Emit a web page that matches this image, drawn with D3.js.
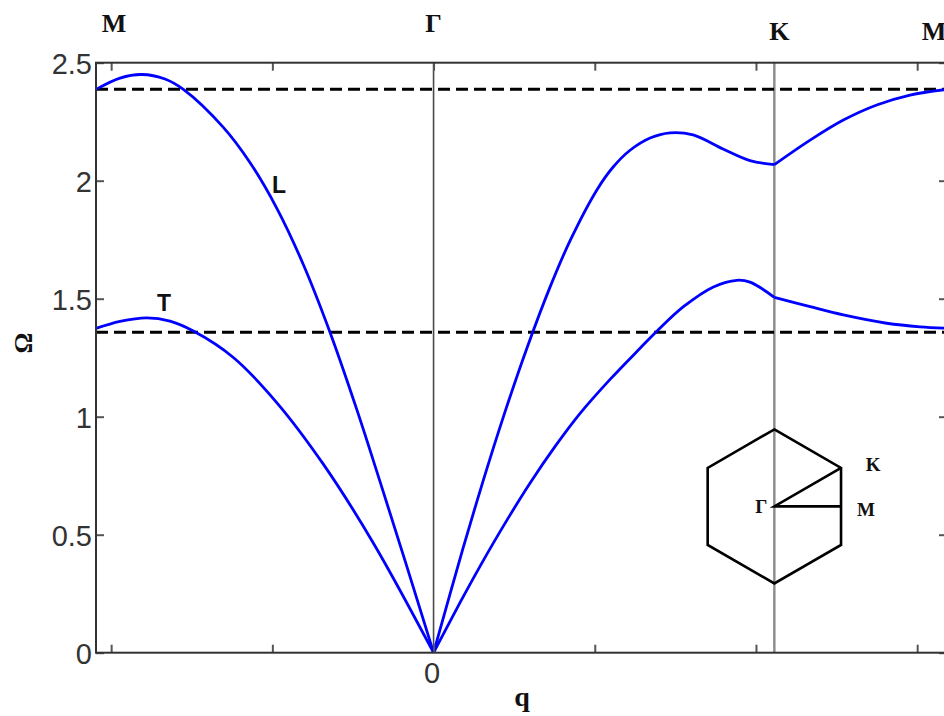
<!DOCTYPE html>
<html>
<head>
<meta charset="utf-8">
<script src="https://cdn.jsdelivr.net/npm/d3@7"></script>
<style>
  html, body { margin: 0; padding: 0; background: #fff; }
  svg { display: block; }
</style>
</head>
<body>
<svg id="chart" width="944" height="716"></svg>
<script>
// High-symmetry points along the path M - Γ - K - M
const symNames = ["M", "Γ", "K", "M"];
const symQ = [-2.094, 0, 2.114, 3.185];

// Axis ticks
const xTicks = [-2, -1, 0, 1, 2, 3];
const xTickLabels = ["", "", "0", "", "", ""];
const yTicks = [0, 0.5, 1, 1.5, 2, 2.5];
const yTickLabels = ["0", "0.5", "1", "1.5", "2", "2.5"];

// Reference frequency levels (dashed)
const refLevels = [2.387, 1.358];

// Longitudinal branch, M -> Γ
const qL_MG = [-2.094, -1.945, -1.810, -1.666, -1.552, -1.304, -1.138, -0.973, -0.808, -0.642, -0.476, -0.332, -0.177, 0];
const omegaL_MG = [2.387, 2.435, 2.450, 2.431, 2.387, 2.226, 2.076, 1.884, 1.645, 1.357, 1.030, 0.725, 0.390, 0];

// Transverse branch, M -> Γ
const qT_MG = [-2.094, -1.945, -1.779, -1.635, -1.490, -1.242, -0.973, -0.684, -0.373, 0];
const omegaT_MG = [1.374, 1.404, 1.419, 1.405, 1.363, 1.251, 1.060, 0.799, 0.464, 0];

// Upper branch, Γ -> K
const qU_GK = [0, 0.183, 0.307, 0.431, 0.580, 0.723, 0.847, 1.014, 1.114, 1.219, 1.343, 1.467, 1.610, 1.796, 1.963, 2.114];
const omegaU_GK = [0, 0.443, 0.727, 0.995, 1.292, 1.550, 1.746, 1.962, 2.058, 2.129, 2.181, 2.203, 2.194, 2.134, 2.085, 2.068];

// Lower branch, Γ -> K
const qD_GK = [0, 0.164, 0.288, 0.444, 0.599, 0.754, 0.909, 1.095, 1.281, 1.385, 1.550, 1.736, 1.881, 1.963, 2.114];
const omegaD_GK = [0, 0.212, 0.366, 0.549, 0.719, 0.874, 1.014, 1.158, 1.290, 1.362, 1.466, 1.550, 1.578, 1.570, 1.506];

// Upper branch, K -> M
const qU_KM = [2.114, 2.336, 2.542, 2.749, 2.956, 3.185];
const omegaU_KM = [2.068, 2.172, 2.257, 2.321, 2.363, 2.387];

// Lower branch, K -> M
const qD_KM = [2.114, 2.336, 2.542, 2.811, 3.018, 3.185];
const omegaD_KM = [1.506, 1.466, 1.431, 1.396, 1.381, 1.375];

// Branch name labels
const branchNames = ["L", "T"];
const branchLabelQ = [-0.958, -1.672];
const branchLabelOmega = [1.948, 1.448];

const segments = [
  [qL_MG, omegaL_MG], [qT_MG, omegaT_MG],
  [qU_GK, omegaU_GK], [qD_GK, omegaD_GK],
  [qU_KM, omegaU_KM], [qD_KM, omegaD_KM]
].map(([qs, ws]) => qs.map((q, i) => ({ q, w: ws[i] })));

const svg = d3.select("#chart");
svg.append("rect").attr("width", 944).attr("height", 716).attr("fill", "#fff");

const pL = 96, pR = 947, pT = 62.7, pB = 652.7;
const x = d3.scaleLinear().domain([symQ[0], symQ[3]]).range([pL, pR]);
const y = d3.scaleLinear().domain([0, 2.5]).range([pB, pT]);

const plot = svg.append("g");

// Vertical markers at Γ and K
plot.append("line")
  .attr("x1", x(symQ[1])).attr("x2", x(symQ[1]))
  .attr("y1", pT).attr("y2", pB)
  .attr("stroke", "#4a4a4a").attr("stroke-width", 1.6);
plot.append("line")
  .attr("x1", x(symQ[2])).attr("x2", x(symQ[2]))
  .attr("y1", pT).attr("y2", pB)
  .attr("stroke", "#8a8a8a").attr("stroke-width", 2.4);

// Dashed reference levels
plot.selectAll("line.ref").data(refLevels).join("line")
  .attr("class", "ref")
  .attr("x1", pL).attr("x2", pR)
  .attr("y1", d => y(d)).attr("y2", d => y(d))
  .attr("stroke", "#000").attr("stroke-width", 3)
  .attr("stroke-dasharray", "12,6");

// Dispersion curves
const line = d3.line()
  .x(d => x(d.q)).y(d => y(d.w))
  .curve(d3.curveCatmullRom.alpha(0.5));
plot.selectAll("path.branch").data(segments).join("path")
  .attr("class", "branch")
  .attr("d", line)
  .attr("fill", "none")
  .attr("stroke", "#0000ff")
  .attr("stroke-width", 2.8)
  .attr("stroke-linejoin", "round");

// Axes with inward ticks on all four sides
const tickColor = "#555";
const fontAxis = "'Liberation Sans', Arial, sans-serif";

const axB = svg.append("g").attr("transform", `translate(0,${pB})`)
  .call(d3.axisBottom(x).tickValues(xTicks).tickSize(-8).tickPadding(10)
    .tickFormat((d, i) => xTickLabels[i]));
const axT = svg.append("g").attr("transform", `translate(0,${pT})`)
  .call(d3.axisTop(x).tickValues(xTicks).tickSize(-8).tickFormat(""));
const axL = svg.append("g").attr("transform", `translate(${pL},0)`)
  .call(d3.axisLeft(y).tickValues(yTicks).tickSize(-8).tickPadding(4)
    .tickFormat((d, i) => yTickLabels[i]));
const axR = svg.append("g").attr("transform", `translate(${pR},0)`)
  .call(d3.axisRight(y).tickValues(yTicks).tickSize(-8).tickFormat(""));

[axB, axT, axL, axR].forEach(g => {
  g.select(".domain").remove();
  g.selectAll(".tick line").attr("stroke", tickColor).attr("stroke-width", 2);
  g.selectAll(".tick text")
    .attr("font-family", fontAxis)
    .attr("font-size", 29)
    .attr("fill", "#333");
});
axL.selectAll(".tick text").attr("dy", "0.38em");
axB.selectAll(".tick text").attr("dx", "-2");

// Frame
svg.append("rect")
  .attr("x", pL).attr("y", pT)
  .attr("width", pR - pL).attr("height", pB - pT)
  .attr("fill", "none").attr("stroke", "#333").attr("stroke-width", 2);

// Axis titles
const serif = "'Liberation Serif', 'Times New Roman', serif";
svg.append("text")
  .attr("x", 522).attr("y", 706)
  .attr("text-anchor", "middle")
  .attr("font-family", serif).attr("font-weight", "bold")
  .attr("font-size", 28).attr("fill", "#111")
  .text("q");
svg.append("text")
  .attr("transform", "translate(32,343) rotate(-90)")
  .attr("text-anchor", "middle")
  .attr("font-family", serif).attr("font-weight", "bold")
  .attr("font-size", 26).attr("fill", "#111")
  .text("Ω");

// Symmetry point labels above the frame
const symDx = [18, 0, 5, -13];
const symY = [32, 32, 40, 40];
svg.selectAll("text.sym").data(symNames).join("text")
  .attr("class", "sym")
  .attr("x", (d, i) => x(symQ[i]) + symDx[i])
  .attr("y", (d, i) => symY[i])
  .attr("text-anchor", "middle")
  .attr("font-family", serif).attr("font-weight", "bold")
  .attr("font-size", 26).attr("fill", "#111")
  .text(d => d);

// Branch labels
svg.selectAll("text.branchName").data(branchNames).join("text")
  .attr("class", "branchName")
  .attr("x", (d, i) => x(branchLabelQ[i]))
  .attr("y", (d, i) => y(branchLabelOmega[i]))
  .attr("text-anchor", "middle")
  .attr("font-family", fontAxis).attr("font-weight", "bold")
  .attr("font-size", 23).attr("fill", "#111")
  .text(d => d);

// Inset: hexagonal Brillouin zone with the irreducible path
const hexC = [x(symQ[2]), y(0.62)];
const hexR = 77;
const hexPts = d3.range(6).map(k => {
  const a = Math.PI / 2 - k * Math.PI / 3;
  return [hexC[0] + hexR * Math.cos(a), hexC[1] - hexR * Math.sin(a)];
});
const inset = svg.append("g");
inset.append("path")
  .attr("d", d3.line()(hexPts) + "Z")
  .attr("fill", "none").attr("stroke", "#000").attr("stroke-width", 2.6)
  .attr("stroke-linejoin", "miter");
const kPt = hexPts[1];
const mPt = [(hexPts[1][0] + hexPts[2][0]) / 2, (hexPts[1][1] + hexPts[2][1]) / 2];
inset.append("path")
  .attr("d", d3.line()([kPt, hexC, mPt]))
  .attr("fill", "none").attr("stroke", "#000").attr("stroke-width", 2.6);
const insetLabels = [
  { t: "K", px: kPt[0] + 32, py: kPt[1] + 3, s: 19 },
  { t: "M", px: mPt[0] + 25, py: mPt[1] + 10, s: 19 },
  { t: "Γ", px: hexC[0] - 13, py: hexC[1] + 7, s: 19 }
];
inset.selectAll("text").data(insetLabels).join("text")
  .attr("x", d => d.px).attr("y", d => d.py)
  .attr("text-anchor", "middle")
  .attr("font-family", serif).attr("font-weight", "bold")
  .attr("font-size", d => d.s).attr("fill", "#111")
  .text(d => d.t);
</script>
</body>
</html>
